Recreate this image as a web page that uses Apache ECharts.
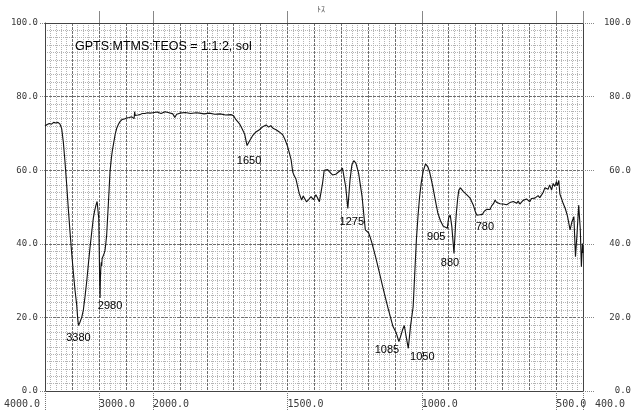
<!DOCTYPE html>
<html>
<head>
<meta charset="utf-8">
<script src="https://cdn.jsdelivr.net/npm/echarts@6/dist/echarts.min.js"></script>
<style>
  html, body { margin: 0; padding: 0; background: #fff; }
  #chart { width: 634px; height: 412px; }
</style>
</head>
<body>
<div id="chart"></div>
<script>
// IR transmission spectrum, 4000-2000 cm-1 (compressed scale)
const wavenumbersHigh = [4000, 3960, 3920, 3880, 3840, 3800, 3760, 3722, 3691, 3661, 3630, 3598, 3568, 3537, 3506, 3476, 3445, 3413, 3395, 3380, 3355, 3320, 3290, 3260, 3228, 3198, 3167, 3136, 3105, 3080, 3056, 3035, 3020, 3005, 2995, 2988, 2980, 2974, 2966, 2958, 2950, 2942, 2930, 2915, 2900, 2889, 2874, 2858, 2843, 2828, 2812, 2796, 2780, 2765, 2750, 2735, 2700, 2672, 2640, 2611, 2570, 2530, 2487, 2440, 2394, 2365, 2350, 2340, 2330, 2310, 2280, 2241, 2200, 2150, 2100, 2056, 2020, 2000];
const transHigh = [72.0, 72.4, 72.7, 72.5, 73.0, 72.8, 73.0, 72.5, 71.3, 67.7, 62.3, 56.0, 49.5, 43.3, 37.5, 32.4, 27.5, 23.4, 19.8, 17.8, 18.6, 20.0, 22.0, 25.5, 29.7, 34.3, 38.9, 43.0, 47.0, 49.0, 50.5, 51.5, 51.0, 47.0, 38.0, 30.0, 25.3, 30.5, 33.5, 35.0, 34.0, 36.0, 36.5, 37.0, 37.6, 38.2, 40.0, 42.4, 46.5, 50.5, 55.0, 59.6, 62.0, 64.0, 65.6, 66.8, 69.8, 71.4, 72.5, 73.2, 73.8, 73.9, 74.2, 74.3, 74.5, 74.8, 74.0, 75.9, 74.9, 75.3, 75.0, 75.1, 75.4, 75.4, 75.6, 75.5, 75.7, 75.6];

// 2000-400 cm-1 (expanded scale)
const wavenumbersLow = [2000, 1985, 1970, 1955, 1940, 1926, 1919, 1912, 1900, 1880, 1860, 1840, 1826, 1810, 1790, 1770, 1750, 1730, 1710, 1700, 1692, 1678, 1668, 1659, 1650, 1642, 1630, 1617, 1604, 1590, 1579, 1570, 1562, 1552, 1542, 1530, 1517, 1508, 1499, 1492, 1486, 1480, 1474, 1468, 1462, 1456, 1447, 1441, 1437, 1429, 1420, 1412, 1403, 1394, 1388, 1381, 1375, 1369, 1363, 1357, 1350, 1344, 1332, 1320, 1310, 1301, 1295, 1290, 1283, 1275, 1267, 1260, 1253, 1245, 1235, 1222, 1215, 1210, 1204, 1198, 1192, 1185, 1172, 1160, 1148, 1136, 1125, 1117, 1107, 1095, 1085, 1078, 1072, 1065, 1058, 1050, 1042, 1032, 1026, 1020, 1014, 1008, 1002, 995, 986, 977, 970, 964, 958, 952, 946, 940, 930, 920, 905, 900, 894, 888, 880, 874, 871, 866, 862, 856, 851, 845, 838, 832, 826, 820, 814, 808, 801, 795, 788, 784, 780, 774, 768, 764, 758, 752, 746, 740, 733, 727, 722, 715, 709, 703, 697, 690, 684, 678, 672, 666, 659, 653, 647, 641, 635, 629, 623, 617, 610, 604, 598, 592, 586, 579, 573, 567, 561, 554, 548, 542, 536, 530, 524, 517, 511, 505, 499, 495, 490, 486, 480, 474, 466, 458, 453, 448, 441, 434, 428, 422, 416, 410, 406, 402, 400];
const transLow = [75.6, 75.8, 75.4, 75.9, 75.6, 75.3, 74.3, 75.2, 75.5, 75.7, 75.4, 75.6, 75.5, 75.3, 75.5, 75.2, 75.3, 75.0, 75.1, 74.8, 73.8, 72.6, 71.2, 69.8, 66.7, 67.8, 69.3, 70.4, 71.0, 71.9, 72.3, 71.7, 72.1, 71.3, 71.0, 70.4, 69.6, 68.2, 66.4, 64.5, 62.8, 59.5, 58.4, 57.6, 55.6, 53.7, 51.9, 53.0, 53.3, 51.4, 52.1, 52.8, 52.0, 53.3, 52.5, 51.4, 51.9, 56.5, 60.0, 60.5, 60.2, 59.6, 58.7, 58.9, 59.5, 60.0, 60.6, 61.0, 55.5, 49.6, 57.3, 61.4, 62.6, 61.9, 59.2, 52.8, 47.5, 43.8, 43.5, 43.0, 41.8, 40.1, 36.5, 32.9, 29.2, 25.6, 22.4, 20.2, 17.5, 15.8, 13.4, 15.0, 16.5, 17.8, 14.8, 11.6, 17.5, 22.9, 32.0, 41.0, 47.5, 52.8, 56.5, 59.6, 61.7, 60.9, 59.3, 57.3, 55.2, 52.8, 50.5, 48.3, 46.2, 44.8, 44.2, 47.0, 47.8, 44.6, 37.4, 45.5, 48.6, 52.5, 54.6, 55.2, 54.9, 54.2, 53.7, 53.3, 52.8, 52.4, 51.9, 50.5, 48.8, 47.8, 48.2, 47.9, 48.3, 48.0, 48.8, 48.6, 49.4, 49.6, 49.3, 50.3, 50.9, 51.9, 51.3, 51.8, 50.9, 51.4, 50.8, 51.2, 50.6, 50.5, 51.2, 50.7, 51.5, 51.9, 51.0, 51.6, 50.8, 51.0, 51.8, 51.3, 52.2, 51.9, 51.4, 52.3, 51.8, 52.4, 52.0, 53.1, 52.5, 53.3, 54.0, 55.2, 55.5, 54.8, 56.0, 54.6, 56.4, 55.6, 56.9, 55.8, 57.2, 53.5, 52.3, 51.0, 49.6, 47.6, 45.7, 43.8, 46.0, 47.4, 36.5, 42.9, 50.5, 43.8, 33.8, 40.1, 37.5];

// Annotated band positions (cm-1)
const peakLabels = [3380, 2980, 1650, 1275, 1085, 1050, 905, 880, 780];

// Axis tick labels
const yTicks = [0, 20, 40, 60, 80, 100];
const xLabelsHigh = [4000, 3000, 2000];
const xLabelsLow = [1500, 1000, 500, 400];
const topTicksHigh = [3000, 2000];
const topTicksLow = [1500, 1000, 500, 400];
const sampleName = 'GPTS:MTMS:TEOS = 1:1:2, sol';
const headerMark = 'ﾄｽ';

const pairs = (xs, ys) => xs.map((x, i) => [x, ys[i]]);
const highData = pairs(wavenumbersHigh, transHigh);
const lowData = pairs(wavenumbersLow, transLow);

// label placement around each band minimum
const labelOffset = {
  3380: [0, 12], 2980: [10, 8], 1650: [2, 15], 1275: [4, 13],
  1085: [-12, 8], 1050: [14, 9], 905: [-11, 9], 880: [-4, 10], 780: [4, 14]
};

function bandMarks(xs, ys, lo, hi) {
  return peakLabels.filter(p => p >= lo && p <= hi).map(p => {
    const i = xs.indexOf(p);
    return {
      name: String(p),
      coord: [p, ys[i]],
      label: { offset: labelOffset[p] }
    };
  });
}

const monoFont = 'DejaVu Sans Mono';
const labelColor = '#3a3a3a';
const majorGrid = { color: '#6e6e6e', width: 1, type: [3, 1] };
const minorGrid = { color: '#b4b4b4', width: 1, type: [1, 1] };
const frame = { show: true, lineStyle: { color: '#444', width: 1 } };
const noLine = { show: false };

const plotTop = 23, plotHeight = 368;
const fmt = v => v.toFixed(1);

const chart = echarts.init(document.getElementById('chart'), null, { renderer: 'canvas' });

const markPointBase = {
  symbol: 'circle',
  symbolSize: 1,
  itemStyle: { color: 'rgba(0,0,0,0)' },
  label: {
    show: true,
    position: 'inside',
    formatter: '{b}',
    color: '#000',
    fontSize: 11,
    fontFamily: 'Liberation Sans'
  }
};

const highRange = { min: 2000, max: 4000, interval: 500, inverse: true };
const lowRange = { min: 400, max: 2000, interval: 100, inverse: true };

// wavenumber axes: labelled bottom axes, top tick axes, and chart-paper grid axes
function labelAxis(gridIndex, range, values, labelFormatter, extra) {
  return Object.assign({
    type: 'value', gridIndex, position: 'bottom', z: 3,
    axisLine: frame,
    axisTick: { show: true, customValues: values, length: 20, lineStyle: { color: '#777', type: [1, 1] } },
    axisLabel: Object.assign({
      customValues: values, formatter: labelFormatter, align: 'left',
      margin: 8, fontSize: 10, fontFamily: monoFont, color: labelColor
    }, extra || {}),
    splitLine: noLine
  }, range);
}
function topAxis(gridIndex, range, values) {
  return Object.assign({
    type: 'value', gridIndex, position: 'top', z: 3,
    axisLine: frame,
    axisTick: { show: true, customValues: values, length: 12, lineStyle: { color: '#888' } },
    axisLabel: { show: false },
    splitLine: noLine
  }, range);
}
function paperAxis(gridIndex, range) {
  return Object.assign({
    type: 'value', gridIndex, position: 'bottom', offset: 0,
    axisLine: noLine,
    axisTick: noLine,
    axisLabel: { show: false },
    splitLine: { show: true, lineStyle: majorGrid },
    minorTick: { show: false, splitNumber: 5 },
    minorSplitLine: { show: true, lineStyle: minorGrid }
  }, range);
}

chart.setOption({
  animation: false,
  backgroundColor: '#fff',
  title: {
    text: sampleName,
    left: 75,
    top: 40,
    padding: 0,
    textStyle: { fontFamily: 'Liberation Sans', fontSize: 12.5, fontWeight: 'normal', color: '#000' }
  },
  graphic: [{
    type: 'text',
    left: 317,
    top: 5,
    style: { text: headerMark, fontSize: 8, fill: '#555', fontFamily: 'Noto Sans CJK JP' }
  }],
  grid: [
    { left: 45, top: plotTop, width: 108, height: plotHeight },
    { left: 153, top: plotTop, width: 432, height: plotHeight }
  ],
  xAxis: [
    labelAxis(0, highRange, xLabelsHigh,
      v => v === 4000 ? '{edge|' + fmt(v) + '}' : fmt(v),
      {
        alignMinLabel: 'right',
        rich: { edge: { padding: [0, 5, 0, 0], fontSize: 10, fontFamily: monoFont, color: labelColor } }
      }),
    labelAxis(1, lowRange, xLabelsLow,
      v => v === 400 ? '{far|' + fmt(v) + '}' : fmt(v),
      { rich: { far: { padding: [0, 0, 0, 12], fontSize: 10, fontFamily: monoFont, color: labelColor } } }),
    topAxis(0, highRange, topTicksHigh),
    topAxis(1, lowRange, topTicksLow),
    paperAxis(0, highRange),
    paperAxis(1, lowRange)
  ],
  yAxis: [
    {
      type: 'value', gridIndex: 0, position: 'left', min: 0, max: 100, interval: 20,
      axisLine: frame,
      axisTick: { show: true, length: 6, lineStyle: { color: '#888', type: [1, 1] } },
      axisLabel: { formatter: fmt, margin: 7, fontSize: 9, fontFamily: monoFont, color: labelColor },
      splitLine: { show: true, lineStyle: majorGrid },
      minorTick: { show: false, splitNumber: 10 },
      minorSplitLine: { show: true, lineStyle: minorGrid }
    },
    {
      type: 'value', gridIndex: 1, position: 'right', min: 0, max: 100, interval: 20,
      axisLine: frame,
      axisTick: { show: true, length: 12, lineStyle: { color: '#888', type: [1, 1] } },
      axisLabel: { formatter: fmt, align: 'right', margin: 48, fontSize: 9, fontFamily: monoFont, color: labelColor },
      splitLine: { show: true, lineStyle: majorGrid },
      minorTick: { show: false, splitNumber: 10 },
      minorSplitLine: { show: true, lineStyle: minorGrid }
    }
  ],
  series: [
    {
      type: 'line', xAxisIndex: 0, yAxisIndex: 0, data: highData,
      showSymbol: false, symbol: 'none',
      lineStyle: { color: '#111', width: 1.1 },
      markPoint: Object.assign({ data: bandMarks(wavenumbersHigh, transHigh, 2000, 4000) }, markPointBase)
    },
    {
      type: 'line', xAxisIndex: 1, yAxisIndex: 1, data: lowData,
      showSymbol: false, symbol: 'none',
      lineStyle: { color: '#111', width: 1.1 },
      markPoint: Object.assign({ data: bandMarks(wavenumbersLow, transLow, 400, 1999) }, markPointBase)
    }
  ]
});
</script>
</body>
</html>
